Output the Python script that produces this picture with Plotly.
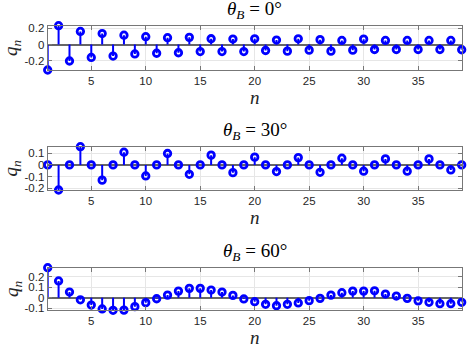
import plotly.graph_objects as go
from plotly.subplots import make_subplots

# stem data
n = list(range(1, 40))

q_0 = [-0.31, 0.23, -0.20, 0.16, -0.157, 0.134, -0.14, 0.114, -0.114, 0.096,
       -0.106, 0.084, -0.10, 0.088, -0.085, 0.071, -0.085, 0.067, -0.085, 0.07,
       -0.072, 0.055, -0.08, 0.07, -0.068, 0.06, -0.08, 0.05, -0.068, 0.066,
       -0.06, 0.05, -0.06, 0.05, -0.06, 0.05, -0.06, 0.05, -0.063]

q_30 = [0, -0.214, 0, 0.155, 0, -0.13, 0, 0.108, 0, -0.094,
        0, 0.097, 0, -0.08, 0, 0.083, 0, -0.066, 0, 0.066,
        0, -0.057, 0, 0.062, 0, -0.063, 0, 0.057, 0, -0.054,
        0, 0.051, 0, -0.054, 0, 0.051, 0, -0.043, 0]

q_60 = [0.286, 0.16, 0.054, -0.02, -0.07, -0.107, -0.12, -0.118, -0.085, -0.047,
        -0.01, 0.025, 0.063, 0.089, 0.089, 0.073, 0.054, 0.022, -0.012, -0.038,
        -0.063, -0.076, -0.063, -0.05, -0.028, -0.006, 0.025, 0.048, 0.063, 0.063,
        0.066, 0.035, 0.016, -0.006, -0.03, -0.044, -0.057, -0.057, -0.044]

titles = ['0', '30', '60']
ytick_vals = [[-0.2, 0, 0.2], [-0.2, -0.1, 0, 0.1], [-0.1, 0, 0.1, 0.2]]
x_ticks = [5, 10, 15, 20, 25, 30, 35]

series = [q_0, q_30, q_60]

BLUE = '#0000ff'
AXC = '#777777'
TXT = '#262626'
SERIF = 'Liberation Serif, DejaVu Serif, serif'
SANS = 'Liberation Sans, Arial, sans-serif'

W, H = 470, 353
x_dom = [47.7 / W, 461.7 / W]
# top / bottom pixel of each axes box
boxes = [(25.7, 70), (146.7, 190), (267.7, 310.3)]

fig = make_subplots(rows=3, cols=1)

for i, q in enumerate(series):
    r = i + 1
    # stems
    sx, sy = [], []
    for xv, yv in zip(n, q):
        sx += [xv, xv, None]
        sy += [0, yv, None]
    fig.add_trace(go.Scatter(x=sx, y=sy, mode='lines',
                             line=dict(color=BLUE, width=2),
                             cliponaxis=False, showlegend=False,
                             hoverinfo='skip'), row=r, col=1)
    fig.add_trace(go.Scatter(x=n, y=q, mode='markers',
                             marker=dict(symbol='circle-open', size=6.5,
                                         color=BLUE,
                                         line=dict(color=BLUE, width=2.8)),
                             cliponaxis=False, showlegend=False),
                  row=r, col=1)

    top, bot = boxes[i]
    fig.update_xaxes(domain=x_dom, range=[1, 39], tickvals=x_ticks,
                     ticks='inside', ticklen=4, tickcolor=AXC,
                     showline=True, linecolor=AXC, linewidth=1.2,
                     mirror='allticks', showgrid=True, gridcolor='#e6e6e6',
                     zeroline=False, automargin=False,
                     tickfont=dict(family=SANS, size=11.5, color=TXT),
                     title=dict(text='<i>n</i>',
                                font=dict(family=SERIF, size=19, color=TXT),
                                standoff=0),
                     row=r, col=1)
    yv = ytick_vals[i]
    fig.update_yaxes(domain=[1 - bot / H, 1 - top / H],
                     range=[min(q), max(q)],
                     tickvals=yv,
                     ticktext=['%g' % v for v in yv],
                     ticks='inside', ticklen=4, tickcolor=AXC,
                     showline=True, linecolor=AXC, linewidth=1.2,
                     mirror='allticks', showgrid=True, gridcolor='#e6e6e6',
                     zeroline=True, zerolinecolor='#666666', zerolinewidth=1.5,
                     automargin=False,
                     tickfont=dict(family=SANS, size=11.5, color=TXT),
                     title=dict(text='<i>q<sub>n</sub></i>',
                                font=dict(family=SERIF, size=19, color=TXT),
                                standoff=0),
                     row=r, col=1)

    fig.add_annotation(
        text='<i>θ<sub>B</sub></i> = %s°' % titles[i],
        xref='paper', yref='paper',
        x=(x_dom[0] + x_dom[1]) / 2, y=1 - top / H,
        xanchor='center', yanchor='bottom', yshift=2,
        showarrow=False,
        font=dict(family=SERIF, size=19, color='#000000'))

fig.update_layout(width=W, height=H,
                  margin=dict(l=0, r=0, t=0, b=0),
                  paper_bgcolor='white', plot_bgcolor='white')

# drop the browser's default body margin so the figure fills the window
fig.write_html('out.html', config={'displayModeBar': False},
               post_script="document.body.style.margin='0';")
